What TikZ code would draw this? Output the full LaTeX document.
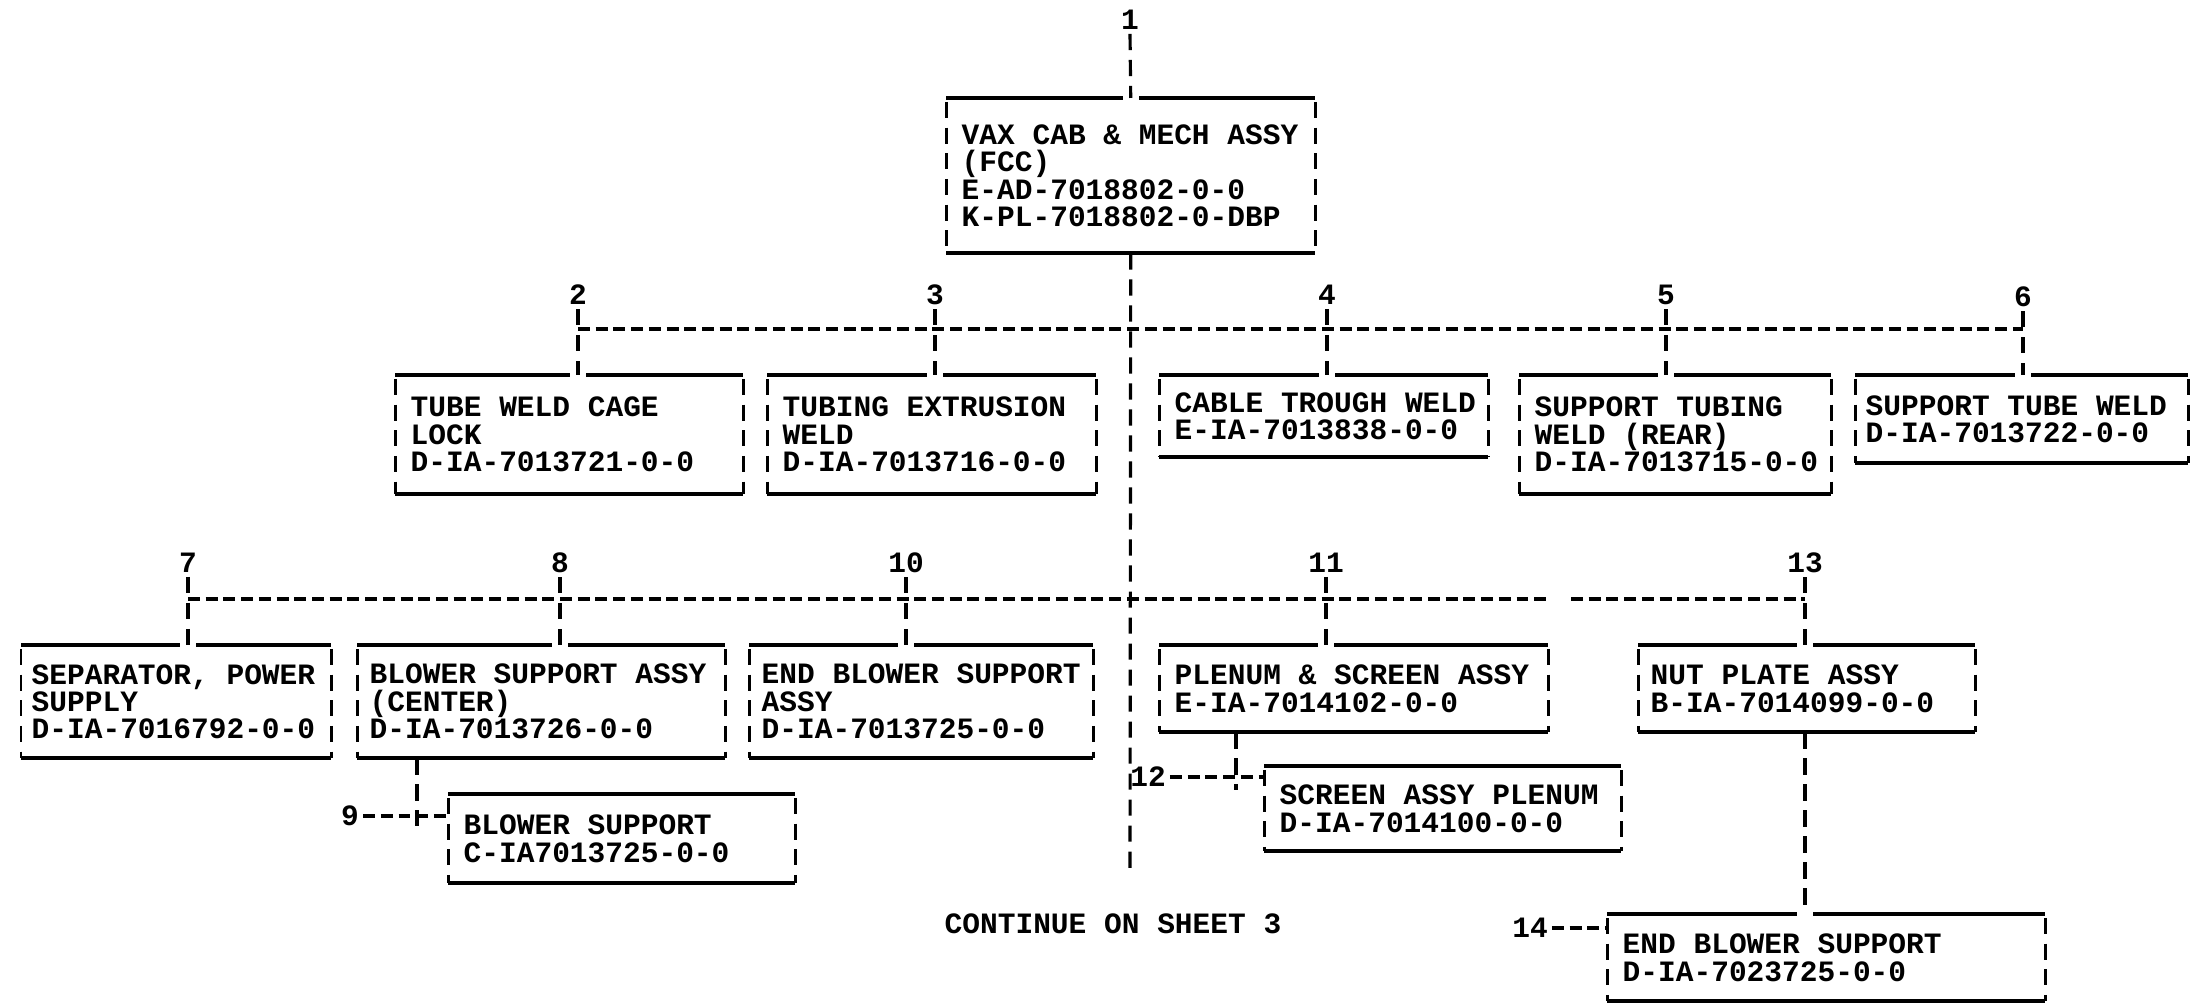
\documentclass[tikz,border=0pt]{standalone}
\usepackage{fontspec}
\setmonofont{Liberation Mono}
\usetikzlibrary{positioning}

\tikzset{
  partbox/.style={inner sep=0pt, anchor=north west},
  parttext/.style={inner sep=0pt, align=left, font=\ttfamily\bfseries\fontsize{8.4}{7.8}\selectfont},
  itemno/.style={inner sep=1pt, font=\ttfamily\bfseries\fontsize{8.4}{7.8}\selectfont},
  rowline/.style={line width=1.1pt},
  sideline/.style={line width=0.85pt, dash pattern=on 4.6pt off 2.7pt},
  hconn/.style={line width=0.9pt, dash pattern=on 3.4pt off 1.64pt},
  vconn/.style={line width=0.9pt, dash pattern=on 4.6pt off 2.8pt},
  topgap/.style={white, line width=1.6pt},
}

\begin{document}
\begin{tikzpicture}
\useasboundingbox (0,0) rectangle (21.95,-10.03);

% top assembly
\node[itemno] (n1) at (11.30,-0.20) {1};
\node[partbox, minimum width=3.68cm, minimum height=1.54cm] (b1) at (9.46,-0.98) {};
\node[parttext, right=0.15cm of b1.west] (t1) {VAX CAB \& MECH ASSY\\(FCC)\\E-AD-7018802-0-0\\K-PL-7018802-0-DBP};

% second row
\node[itemno] (n2) at (5.78,-2.95) {2};
\node[itemno] (n3) at (9.35,-2.95) {3};
\node[itemno] (n4) at (13.27,-2.95) {4};
\node[itemno] (n5) at (16.66,-2.95) {5};
\node[itemno] (n6) at (20.23,-2.97) {6};
\node[partbox, minimum width=3.47cm, minimum height=1.18cm] (b2) at (3.95,-3.75) {};
\node[partbox, minimum width=3.28cm, minimum height=1.18cm] (b3) at (7.67,-3.75) {};
\node[partbox, minimum width=3.28cm, minimum height=0.81cm] (b4) at (11.59,-3.75) {};
\node[partbox, minimum width=3.11cm, minimum height=1.18cm] (b5) at (15.19,-3.75) {};
\node[partbox, minimum width=3.32cm, minimum height=0.87cm] (b6) at (18.55,-3.75) {};
\node[parttext, right=0.15cm of b2.west] (t2) {TUBE WELD CAGE\\LOCK\\D-IA-7013721-0-0};
\node[parttext, right=0.15cm of b3.west] (t3) {TUBING EXTRUSION\\WELD\\D-IA-7013716-0-0};
\node[parttext, right=0.15cm of b4.west] (t4) {CABLE TROUGH WELD\\E-IA-7013838-0-0};
\node[parttext, right=0.15cm of b5.west] (t5) {SUPPORT TUBING\\WELD (REAR)\\D-IA-7013715-0-0};
\node[parttext, right=0.10cm of b6.west] (t6) {SUPPORT TUBE WELD\\D-IA-7013722-0-0};

% third row
\node[itemno] (n7) at (1.88,-5.63) {7};
\node[itemno] (n8) at (5.60,-5.63) {8};
\node[itemno] (n10) at (9.06,-5.63) {10};
\node[itemno] (n11) at (13.26,-5.63) {11};
\node[itemno] (n13) at (18.05,-5.63) {13};
\node[partbox, minimum width=3.09cm, minimum height=1.12cm] (b7) at (0.21,-6.45) {};
\node[partbox, minimum width=3.67cm, minimum height=1.12cm] (b8) at (3.57,-6.45) {};
\node[partbox, minimum width=3.43cm, minimum height=1.12cm] (b10) at (7.49,-6.45) {};
\node[partbox, minimum width=3.88cm, minimum height=0.86cm] (b11) at (11.59,-6.45) {};
\node[partbox, minimum width=3.36cm, minimum height=0.86cm] (b13) at (16.38,-6.45) {};
\node[parttext, right=0.10cm of b7.west] (t7) {SEPARATOR, POWER\\SUPPLY\\D-IA-7016792-0-0};
\node[parttext, right=0.12cm of b8.west] (t8) {BLOWER SUPPORT ASSY\\(CENTER)\\D-IA-7013726-0-0};
\node[parttext, right=0.12cm of b10.west] (t10) {END BLOWER SUPPORT\\ASSY\\D-IA-7013725-0-0};
\node[parttext, right=0.15cm of b11.west] (t11) {PLENUM \& SCREEN ASSY\\E-IA-7014102-0-0};
\node[parttext, right=0.12cm of b13.west] (t13) {NUT PLATE ASSY\\B-IA-7014099-0-0};

% sub items
\node[itemno] (n9) at (3.50,-8.16) {9};
\node[itemno] (n12) at (11.48,-7.77) {12};
\node[itemno] (n14) at (15.30,-9.28) {14};
\node[partbox, minimum width=3.46cm, minimum height=0.88cm] (b9) at (4.48,-7.94) {};
\node[partbox, minimum width=3.56cm, minimum height=0.84cm] (b12) at (12.64,-7.66) {};
\node[partbox, minimum width=4.37cm, minimum height=0.86cm] (b14) at (16.07,-9.14) {};
\node[parttext, right=0.15cm of b9.west] (t9) {BLOWER SUPPORT\\C-IA7013725-0-0};
\node[parttext, right=0.15cm of b12.west] (t12) {SCREEN ASSY PLENUM\\D-IA-7014100-0-0};
\node[parttext, right=0.15cm of b14.west] (t14) {END BLOWER SUPPORT\\D-IA-7023725-0-0};

\node[parttext] (cont) at (11.13,-9.24) {CONTINUE ON SHEET 3};

% box outlines
\foreach \b in {b1,b2,b3,b4,b5,b6,b7,b8,b10,b11,b13,b9,b12,b14} {
  \draw[rowline] (\b.north west) -- (\b.north east);
  \draw[rowline] (\b.south west) -- (\b.south east);
  \draw[sideline] ([yshift=-0.04cm]\b.north west) -- (\b.south west);
  \draw[sideline] ([yshift=-0.04cm]\b.north east) -- (\b.south east);
}

% trunk and buses
\coordinate (trunkend) at (11.30,-8.75);
\coordinate (bus2) at (0,-3.29);
\coordinate (bus3a) at (15.47,-5.99);
\coordinate (bus3b) at (15.71,-5.99);
\draw[topgap] ([xshift=-0.08cm]b1.north) -- ([xshift=0.08cm]b1.north);
\draw[vconn] (n1.south) -- (b1.north);
\draw[vconn] (b1.south) -- (trunkend);
\draw[hconn] (n2 |- bus2) -- (n6 |- bus2);
\draw[hconn] (n7 |- bus3a) -- (bus3a);
\draw[hconn] (bus3b) -- (n13 |- bus3b);
\foreach \n/\b in {n2/b2,n3/b3,n4/b4,n5/b5,n6/b6,n7/b7,n8/b8,n10/b10,n11/b11,n13/b13} {
  \draw[topgap] ([xshift=-0.08cm]\n.south |- \b.north) -- ([xshift=0.08cm]\n.south |- \b.north);
  \draw[vconn] (\n.south) -- (\n.south |- \b.north);
}

% sub branches
\coordinate (j9) at (4.17,-8.26);
\coordinate (j12) at (12.36,-7.90);
\draw[vconn] (j9 |- b8.south) -- (j9);
\draw[hconn] (n9.east) -- (n9 -| b9.west);
\draw[vconn] (j12 |- b11.south) -- (j12);
\draw[hconn] (n12.east) -- (n12 -| b12.west);
\draw[topgap] ([xshift=-0.08cm]n13 |- b14.north) -- ([xshift=0.08cm]n13 |- b14.north);
\draw[vconn] (b13.south -| n13) -- (n13 |- b14.north);
\draw[hconn] (n14.east) -- (n14 -| b14.west);
\end{tikzpicture}
\end{document}
